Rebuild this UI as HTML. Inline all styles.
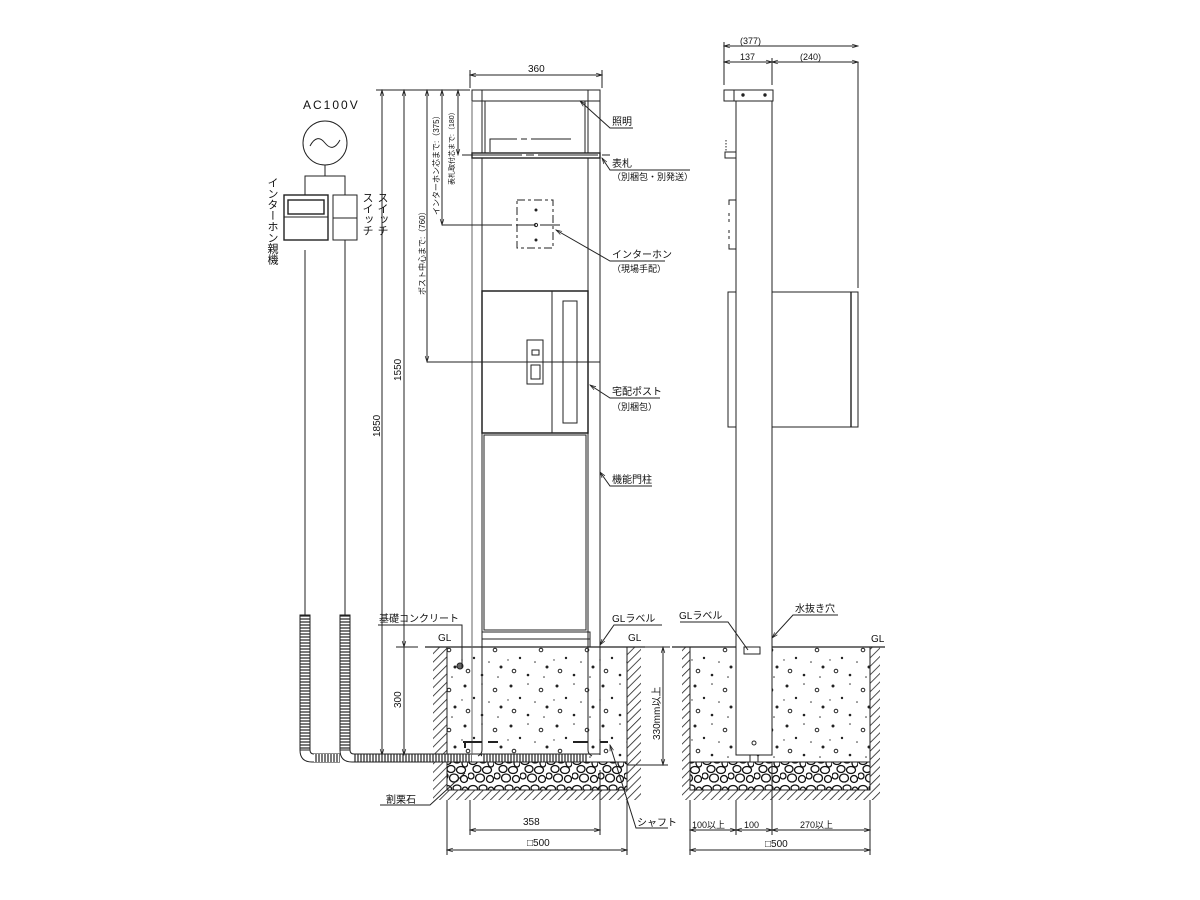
<!DOCTYPE html>
<html><head><meta charset="utf-8">
<style>
html,body{margin:0;padding:0;background:#fff;}
svg{display:block;}
text{font-family:"Liberation Sans","Noto Sans CJK JP",sans-serif;fill:#111;}
.v{writing-mode:tb;glyph-orientation-vertical:0;}
</style></head>
<body>
<svg width="1200" height="900" viewBox="0 0 1200 900" xmlns="http://www.w3.org/2000/svg">
<defs>
<pattern id="hatch" width="6" height="6" patternUnits="userSpaceOnUse" patternTransform="rotate(45)">
<rect width="6" height="6" fill="#fff"/><line x1="0" y1="0" x2="0" y2="6" stroke="#222" stroke-width="1.6"/>
</pattern>
<pattern id="conc" width="46" height="40" patternUnits="userSpaceOnUse">
<rect width="46" height="40" fill="#fff"/>
<circle cx="5" cy="6" r="1.5" fill="#222"/><circle cx="22" cy="4" r="0.8" fill="#333"/>
<circle cx="35" cy="10" r="1.8" fill="none" stroke="#222"/><circle cx="14" cy="18" r="1.2" fill="#222"/>
<circle cx="29" cy="22" r="0.8" fill="#333"/><circle cx="41" cy="27" r="1.5" fill="#222"/>
<circle cx="8" cy="31" r="1.8" fill="none" stroke="#222"/><circle cx="22" cy="35" r="1.3" fill="#222"/>
<circle cx="38" cy="37" r="0.8" fill="#333"/><circle cx="2" cy="20" r="0.7" fill="#333"/>
</pattern>
<pattern id="grav" width="26" height="28" patternUnits="userSpaceOnUse">
<rect width="26" height="28" fill="#fff"/>
<g fill="#fff" stroke="#111" stroke-width="1.3">
<ellipse cx="5" cy="5" rx="4.5" ry="3.5"/><ellipse cx="15" cy="4" rx="4" ry="3"/>
<ellipse cx="23" cy="7" rx="3" ry="4"/><ellipse cx="9" cy="13" rx="4" ry="3.5"/>
<ellipse cx="19" cy="14" rx="4.5" ry="3.5"/><ellipse cx="3" cy="20" rx="3" ry="3"/>
<ellipse cx="12" cy="22" rx="4.5" ry="4"/><ellipse cx="22" cy="23" rx="3.5" ry="3.5"/>
</g>
</pattern>
<pattern id="corr" width="14" height="3" patternUnits="userSpaceOnUse">
<rect width="14" height="3" fill="#fff"/><line x1="0" y1="1" x2="14" y2="1" stroke="#222" stroke-width="1.2"/>
</pattern>
<pattern id="corrh" width="3" height="14" patternUnits="userSpaceOnUse">
<rect width="3" height="14" fill="#fff"/><line x1="1" y1="0" x2="1" y2="14" stroke="#222" stroke-width="1.2"/>
</pattern>
<marker id="a" viewBox="0 0 10 10" refX="10" refY="5" markerWidth="8" markerHeight="6" orient="auto-start-reverse"><path d="M0,2 L10,5 L0,8" fill="none" stroke="#222" stroke-width="1.2"/></marker>
</defs>
<g stroke="#222" stroke-width="1" fill="none">

<!-- ===== FRONT GROUND ===== -->
<rect x="433" y="647" width="14" height="153" fill="url(#hatch)" stroke="none"/>
<rect x="627" y="647" width="14" height="153" fill="url(#hatch)" stroke="none"/>
<rect x="447" y="790" width="180" height="10" fill="url(#hatch)" stroke="none"/>
<rect x="447" y="647" width="180" height="115" fill="url(#conc)" stroke="none"/>
<rect x="447" y="762" width="180" height="28" fill="url(#grav)" stroke="#222"/>
<line x1="447" y1="647" x2="447" y2="790"/><line x1="627" y1="647" x2="627" y2="790"/>
<line x1="425" y1="647" x2="645" y2="647" stroke-width="1.3"/>
<line x1="627" y1="765" x2="668" y2="765"/>

<!-- conduits -->
<rect x="300" y="615" width="10" height="135" fill="url(#corr)"/>
<rect x="340" y="615" width="10" height="135" fill="url(#corr)"/>
<path d="M300,750 Q300,762 312,762 L340,762 M310,750 Q310,754 314,754 L340,754" />
<path d="M340,750 Q340,762 352,762 L472,762 M350,750 Q350,754 354,754 L472,754"/>
<rect x="314" y="754" width="26" height="8" fill="url(#corrh)" stroke="none"/>
<rect x="354" y="754" width="118" height="8" fill="url(#corrh)" stroke="none"/>
<rect x="482" y="754" width="106" height="8" fill="url(#corrh)" stroke="none"/>
<line x1="354" y1="754" x2="600" y2="754"/><line x1="352" y1="762" x2="600" y2="762"/>
<line x1="305" y1="250" x2="305" y2="615"/><line x1="345" y1="240" x2="345" y2="615"/>

<!-- front post -->
<rect x="472" y="90" width="128" height="11" fill="#fff"/>
<line x1="482" y1="90" x2="482" y2="101"/><line x1="588" y1="90" x2="588" y2="101"/>
<line x1="472" y1="101" x2="472" y2="755" stroke="#666"/><line x1="600" y1="101" x2="600" y2="755"/>
<line x1="482" y1="101" x2="482" y2="750"/><line x1="485" y1="101" x2="485" y2="153"/>
<line x1="585" y1="101" x2="585" y2="153"/><line x1="588" y1="101" x2="588" y2="750"/>
<path d="M482,750 Q482,754 478,756 M588,750 Q588,754 592,756"/>
<path d="M490,152 L490,139 L582,139 L582,152" stroke-dasharray="40,4,6,4,40"/>
<rect x="472" y="153" width="128" height="5" fill="#fff" stroke-width="1.4"/>
<line x1="462" y1="155" x2="612" y2="155" stroke-dasharray="60,4,8,4"/>
<rect x="517" y="200" width="36" height="48" stroke-dasharray="8,3,3,3"/>
<circle cx="536" cy="210" r="1" fill="#222"/><circle cx="536" cy="225" r="1.6"/><circle cx="536" cy="240" r="1" fill="#222"/>
<line x1="442" y1="225" x2="560" y2="225" stroke-dasharray="70,4,20,4,20"/>
<rect x="482" y="291" width="106" height="142" fill="#fff" stroke-width="1.5"/>
<line x1="552" y1="291" x2="552" y2="433"/>
<rect x="563" y="301" width="14" height="122"/>
<rect x="527" y="340" width="16" height="44"/><rect x="532" y="350" width="7" height="5"/><rect x="531" y="365" width="9" height="14"/>
<line x1="427" y1="362" x2="600" y2="362"/>
<rect x="484" y="435" width="102" height="195"/>
<rect x="482" y="632" width="108" height="7"/>
<line x1="482" y1="639" x2="482" y2="647"/><line x1="590" y1="639" x2="590" y2="647"/>
<line x1="463" y1="742" x2="482" y2="742" stroke-width="2"/><line x1="465" y1="742" x2="465" y2="748" stroke-width="2"/>
<line x1="488" y1="742" x2="498" y2="742" stroke-width="2"/>
<line x1="573" y1="742" x2="588" y2="742" stroke-width="2"/>
<line x1="600" y1="742" x2="608" y2="742" stroke-width="2"/>
<circle cx="460" cy="666" r="3" fill="#666"/>

<!-- electrical -->
<circle cx="325" cy="143" r="22"/>
<path d="M310,146 Q317,133 325,143 Q333,153 340,140"/>
<line x1="325" y1="165" x2="325" y2="176"/>
<path d="M305,195 L305,176 L345,176 L345,195"/>
<rect x="284" y="195" width="44" height="45" stroke-width="1.4"/>
<rect x="288" y="200" width="36" height="14" stroke-width="1.4"/>
<line x1="284" y1="217" x2="328" y2="217"/>
<rect x="333" y="195" width="24" height="45"/>
<line x1="333" y1="218" x2="357" y2="218"/>

<!-- front dims -->
<line x1="470" y1="75" x2="602" y2="75" marker-start="url(#a)" marker-end="url(#a)"/>
<line x1="470" y1="70" x2="470" y2="88"/><line x1="602" y1="70" x2="602" y2="88"/>
<line x1="382" y1="90" x2="382" y2="755" marker-start="url(#a)" marker-end="url(#a)"/>
<line x1="404" y1="90" x2="404" y2="647" marker-start="url(#a)" marker-end="url(#a)"/>
<line x1="404" y1="647" x2="404" y2="755" marker-end="url(#a)"/>
<line x1="396" y1="647" x2="418" y2="647"/>
<line x1="427" y1="90" x2="427" y2="362" marker-start="url(#a)" marker-end="url(#a)"/>
<line x1="442" y1="90" x2="442" y2="225" marker-start="url(#a)" marker-end="url(#a)"/>
<line x1="458" y1="90" x2="458" y2="155" marker-start="url(#a)" marker-end="url(#a)"/>
<line x1="376" y1="90" x2="470" y2="90"/>
<line x1="663" y1="647" x2="663" y2="765" marker-start="url(#a)" marker-end="url(#a)"/>
<line x1="640" y1="647" x2="670" y2="647"/>
<line x1="470" y1="800" x2="470" y2="835"/><line x1="600" y1="770" x2="600" y2="835"/>
<line x1="470" y1="830" x2="600" y2="830" marker-start="url(#a)" marker-end="url(#a)"/>
<line x1="447" y1="800" x2="447" y2="855"/><line x1="627" y1="800" x2="627" y2="855"/>
<line x1="447" y1="850" x2="627" y2="850" marker-start="url(#a)" marker-end="url(#a)"/>

<!-- leaders front -->
<path d="M580,101 L610,128 L633,128" marker-start="url(#a)"/>
<path d="M602,158 L610,170 L690,170" marker-start="url(#a)"/>
<path d="M556,230 L610,261 L665,261" marker-start="url(#a)"/>
<path d="M590,385 L610,398 L660,398" marker-start="url(#a)"/>
<path d="M600,472 L610,486 L652,486" marker-start="url(#a)"/>
<path d="M600,645 L614,625 L662,625" marker-start="url(#a)"/>
<path d="M462,668 L462,625 L378,625" />
<path d="M465,773 L430,805 L380,805" />
<path d="M610,745 L636,828 L668,828" marker-start="url(#a)"/>

<!-- ===== SIDE VIEW ===== -->
<rect x="682" y="647" width="8" height="153" fill="url(#hatch)" stroke="none"/>
<rect x="870" y="647" width="10" height="153" fill="url(#hatch)" stroke="none"/>
<rect x="690" y="790" width="180" height="10" fill="url(#hatch)" stroke="none"/>
<rect x="690" y="647" width="180" height="115" fill="url(#conc)" stroke="none"/>
<rect x="690" y="762" width="180" height="28" fill="url(#grav)" stroke="#222"/>
<line x1="690" y1="647" x2="690" y2="790"/><line x1="870" y1="647" x2="870" y2="790"/>
<line x1="672" y1="647" x2="885" y2="647" stroke-width="1.3"/>
<rect x="736" y="101" width="36" height="654" fill="#fff"/>
<circle cx="754" cy="743" r="2"/>
<rect x="750" y="755" width="8" height="7"/>
<rect x="744" y="647" width="16" height="7"/>
<rect x="724" y="90" width="49" height="11" fill="#fff"/><line x1="734" y1="90" x2="734" y2="101"/>
<circle cx="743" cy="95" r="1.2" fill="#222"/><circle cx="765" cy="95" r="1.2" fill="#222"/>
<line x1="726" y1="140" x2="726" y2="152" stroke-dasharray="1.5,1.5"/>
<rect x="725" y="152" width="11" height="6"/>
<path d="M736,200 L729,200 L729,249 L736,249"/><line x1="729" y1="205" x2="729" y2="244" stroke="#fff" stroke-dasharray="8,3,3,3" stroke-width="2"/>
<rect x="728" y="292" width="8" height="135"/>
<rect x="772" y="292" width="86" height="135"/><line x1="851" y1="292" x2="851" y2="427" stroke-width="1.4"/>
<line x1="858" y1="62" x2="858" y2="288"/>
<line x1="724" y1="42" x2="724" y2="85"/><line x1="772" y1="58" x2="772" y2="85"/>
<line x1="724" y1="46" x2="858" y2="46" marker-start="url(#a)" marker-end="url(#a)"/>
<line x1="724" y1="62" x2="772" y2="62" marker-start="url(#a)" marker-end="url(#a)"/>
<line x1="772" y1="62" x2="858" y2="62" marker-start="url(#a)" marker-end="url(#a)"/>
<line x1="736" y1="800" x2="736" y2="835"/><line x1="772" y1="762" x2="772" y2="835"/>
<line x1="690" y1="800" x2="690" y2="855"/><line x1="870" y1="800" x2="870" y2="855"/>
<line x1="690" y1="830" x2="736" y2="830" marker-start="url(#a)" marker-end="url(#a)"/>
<line x1="736" y1="830" x2="772" y2="830" marker-start="url(#a)" marker-end="url(#a)"/>
<line x1="772" y1="830" x2="870" y2="830" marker-start="url(#a)" marker-end="url(#a)"/>
<line x1="690" y1="850" x2="870" y2="850" marker-start="url(#a)" marker-end="url(#a)"/>
<path d="M748,650 L728,622 L680,622"/>
<path d="M772,638 L793,615 L838,615" marker-start="url(#a)"/>
</g>

<g font-size="10">
<text x="303" y="109" font-size="12" letter-spacing="2">AC100V</text>
<text x="528" y="72">360</text>
<text x="523" y="825">358</text>
<text x="527" y="846">□500</text>
<text x="612" y="125">照明</text>
<text x="612" y="167">表札</text>
<text x="612" y="180" font-size="9">（別梱包・別発送）</text>
<text x="612" y="258">インターホン</text>
<text x="612" y="272" font-size="9">（現場手配）</text>
<text x="612" y="395">宅配ポスト</text>
<text x="612" y="410" font-size="9">（別梱包）</text>
<text x="612" y="483">機能門柱</text>
<text x="612" y="622">GLラベル</text>
<text x="628" y="641">GL</text>
<text x="438" y="641">GL</text>
<text x="379" y="622">基礎コンクリート</text>
<text x="386" y="803">割栗石</text>
<text x="637" y="826">シャフト</text>
<text x="740" y="44" font-size="9">(377)</text>
<text x="740" y="60" font-size="9">137</text>
<text x="800" y="60" font-size="9">(240)</text>
<text x="679" y="619">GLラベル</text>
<text x="795" y="612">水抜き穴</text>
<text x="871" y="642">GL</text>
<text x="692" y="828" font-size="9">100以上</text>
<text x="744" y="828" font-size="9">100</text>
<text x="800" y="828" font-size="9">270以上</text>
<text x="765" y="847">□500</text>
<text class="v" x="272" y="177" font-size="11">インターホン親機</text>
<text class="v" x="367" y="192" font-size="11">スイッチ</text>
<text class="v" x="382" y="192" font-size="11">スイッチ</text>
<text transform="translate(380,437) rotate(-90)">1850</text>
<text transform="translate(401,381) rotate(-90)">1550</text>
<text transform="translate(401,708) rotate(-90)">300</text>
<text transform="translate(425,295) rotate(-90)" font-size="8">ポスト中心まで:（760）</text>
<text transform="translate(439,215) rotate(-90)" font-size="8">インターホン芯まで:（375）</text>
<text transform="translate(454,185) rotate(-90)" font-size="7">表札取付芯まで:（180）</text>
<text transform="translate(660,740) rotate(-90)">330mm以上</text>
</g>
</svg>
</body></html>
